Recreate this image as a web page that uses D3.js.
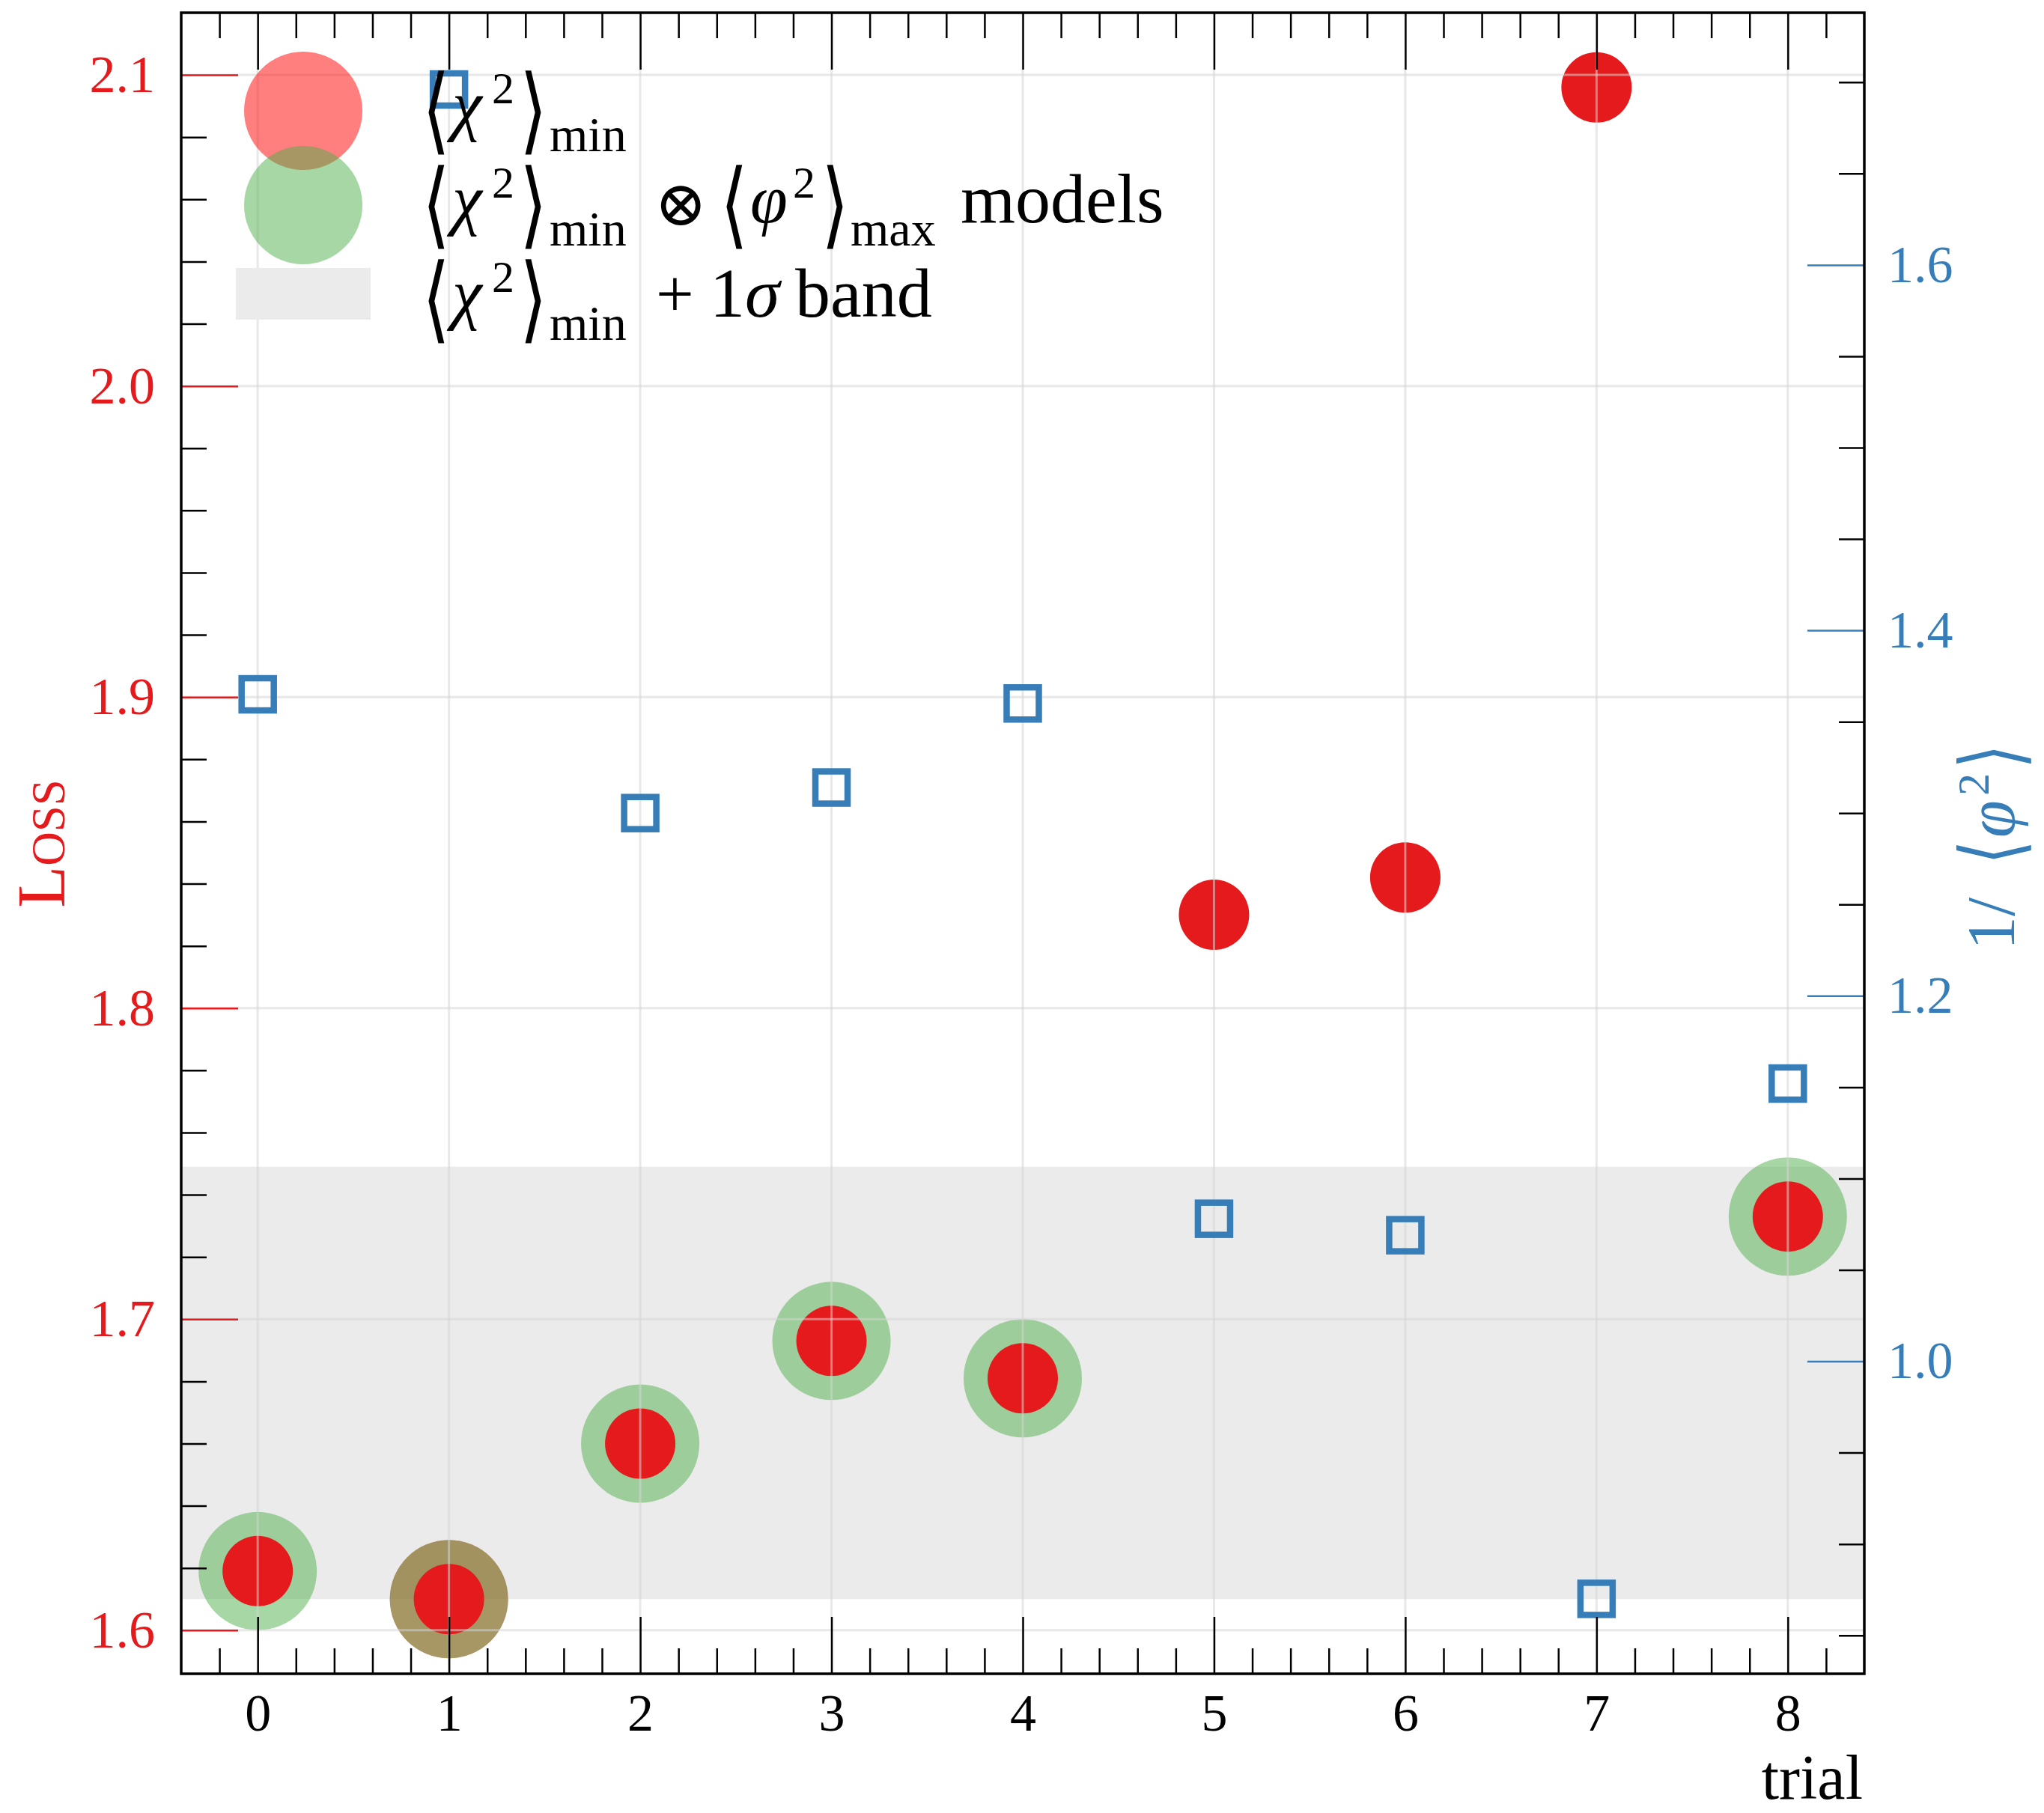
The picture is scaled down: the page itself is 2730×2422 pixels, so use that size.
<!DOCTYPE html>
<html>
<head>
<meta charset="utf-8">
<script src="https://cdn.jsdelivr.net/npm/d3@7/dist/d3.min.js"></script>
<style>
  html, body { margin: 0; padding: 0; background: #fff; }
  svg { display: block; }
  text { font-family: "Liberation Serif", "DejaVu Serif", serif; }
</style>
</head>
<body>
<svg id="chart" width="2730" height="2422"></svg>
<script>
// ---- data -------------------------------------------------------------
const trials      = [0, 1, 2, 3, 4, 5, 6, 7, 8];
const loss        = [1.619, 1.610, 1.660, 1.693, 1.681, 1.830, 1.842, 2.096, 1.733];
const invPhi2     = [1.365, 1.696, 1.300, 1.314, 1.360, 1.078, 1.069, 0.870, 1.152];
const modelTrials = [0, 1, 2, 3, 4, 8];   // ⟨χ²⟩min ⊗ ⟨φ²⟩max models
const bestTrial   = [1];                  // ⟨χ²⟩min
const band        = [1.610, 1.749];       // ⟨χ²⟩min + 1σ
const xTicks      = [0, 1, 2, 3, 4, 5, 6, 7, 8];
const lossTicks   = [1.6, 1.7, 1.8, 1.9, 2.0, 2.1];
const phiTicks    = [1.0, 1.2, 1.4, 1.6];

// ---- style --------------------------------------------------------------
const RED = "#e41a1c", BLUE = "#377eb8", GREEN = "#4daf4a";
const L = 242, R = 2490, T = 17, B = 2236;
const MAJOR = 76, MINOR = 34;
const TICK_FONT = 70, LABEL_FONT = 90;

const svg = d3.select("#chart");

const x = d3.scaleLinear().domain([-0.4, 8.4]).range([L, R]);
const yLoss = d3.scaleLinear().domain([1.586, 2.12]).range([B, T]);
const yPhi = d3.scaleLinear().domain([0.829, 1.738]).range([B, T]);

const close = (a, b) => Math.abs(a - b) < 1e-6;
const xMinor = d3.range(-0.2, 8.4, 0.2).filter(v => !xTicks.some(t => close(t, v)));
const lossMinor = d3.range(1.60, 2.119, 0.02).filter(v => !lossTicks.some(t => close(t, v)));
const phiMinor = d3.range(0.85, 1.738, 0.05).filter(v => !phiTicks.some(t => close(t, v)));

// ---- 1σ band ----------------------------------------------------------------
svg.append("rect")
  .attr("x", L).attr("width", R - L)
  .attr("y", yLoss(band[1])).attr("height", yLoss(band[0]) - yLoss(band[1]))
  .attr("fill", "#ebebeb");

// ---- loss markers -----------------------------------------------------------
const pts = trials.map((t, i) => ({ t, loss: loss[i], phi: invPhi2[i] }));

svg.append("g").selectAll("circle")
  .data(pts.filter(d => bestTrial.includes(d.t)))
  .join("circle")
  .attr("cx", d => x(d.t)).attr("cy", d => yLoss(d.loss)).attr("r", 79)
  .attr("fill", "red").attr("fill-opacity", 0.5);

svg.append("g").selectAll("circle")
  .data(pts.filter(d => modelTrials.includes(d.t)))
  .join("circle")
  .attr("cx", d => x(d.t)).attr("cy", d => yLoss(d.loss)).attr("r", 79)
  .attr("fill", GREEN).attr("fill-opacity", 0.5);

svg.append("g").selectAll("circle")
  .data(pts)
  .join("circle")
  .attr("cx", d => x(d.t)).attr("cy", d => yLoss(d.loss)).attr("r", 47)
  .attr("fill", RED);

// ---- grid -------------------------------------------------------------------
const grid = svg.append("g").attr("stroke", "#d6d6d6").attr("stroke-opacity", 0.55).attr("stroke-width", 3);
grid.selectAll("line.v").data(xTicks).join("line").attr("class", "v")
  .attr("x1", d => x(d)).attr("x2", d => x(d)).attr("y1", T).attr("y2", B);
grid.selectAll("line.h").data(lossTicks).join("line").attr("class", "h")
  .attr("x1", L).attr("x2", R).attr("y1", d => yLoss(d)).attr("y2", d => yLoss(d));

// ---- 1/⟨φ²⟩ markers ---------------------------------------------------------
const S = 43;
svg.append("g").selectAll("rect")
  .data(pts)
  .join("rect")
  .attr("x", d => x(d.t) - S / 2).attr("y", d => yPhi(d.phi) - S / 2)
  .attr("width", S).attr("height", S)
  .attr("fill", "none").attr("stroke", BLUE).attr("stroke-width", 8.5);

// ---- axes -------------------------------------------------------------------
function styleAxis(g, color, width) {
  g.select(".domain").remove();
  g.selectAll(".tick line").attr("stroke", color).attr("stroke-width", width);
  g.selectAll(".tick text").attr("fill", color)
    .attr("font-size", TICK_FONT)
    .attr("font-family", "Liberation Serif, DejaVu Serif, serif");
}

// bottom
svg.append("g").attr("transform", `translate(0,${B})`)
  .call(d3.axisBottom(x).tickValues(xMinor).tickSize(-MINOR).tickFormat(""))
  .call(g => styleAxis(g, "#000", 2.5));
svg.append("g").attr("transform", `translate(0,${B})`)
  .call(d3.axisBottom(x).tickValues(xTicks).tickSize(-MAJOR).tickPadding(26).tickFormat(d3.format("d")))
  .call(g => styleAxis(g, "#000", 2.5));

// top
svg.append("g").attr("transform", `translate(0,${T})`)
  .call(d3.axisTop(x).tickValues(xMinor).tickSize(-MINOR).tickFormat(""))
  .call(g => styleAxis(g, "#000", 2.5));
svg.append("g").attr("transform", `translate(0,${T})`)
  .call(d3.axisTop(x).tickValues(xTicks).tickSize(-MAJOR).tickFormat(""))
  .call(g => styleAxis(g, "#000", 2.5));

// left: loss
svg.append("g").attr("transform", `translate(${L},0)`)
  .call(d3.axisLeft(yLoss).tickValues(lossMinor).tickSize(-MINOR).tickFormat(""))
  .call(g => styleAxis(g, "#000", 2.5));
svg.append("g").attr("transform", `translate(${L},0)`)
  .call(d3.axisLeft(yLoss).tickValues(lossTicks).tickSize(-MAJOR).tickPadding(35).tickFormat(d3.format(".1f")))
  .call(g => styleAxis(g, RED, 2.5));

// right: 1/⟨φ²⟩
svg.append("g").attr("transform", `translate(${R},0)`)
  .call(d3.axisRight(yPhi).tickValues(phiMinor).tickSize(-MINOR).tickFormat(""))
  .call(g => styleAxis(g, "#000", 2.5));
svg.append("g").attr("transform", `translate(${R},0)`)
  .call(d3.axisRight(yPhi).tickValues(phiTicks).tickSize(-MAJOR).tickPadding(31).tickFormat(d3.format(".1f")))
  .call(g => styleAxis(g, BLUE, 2.5));

// frame
svg.append("rect").attr("x", L).attr("y", T).attr("width", R - L).attr("height", B - T)
  .attr("fill", "none").attr("stroke", "#000").attr("stroke-width", 3.5);

// ---- math text helpers ----------------------------------------------------------
// tall, narrow angle bracket
function bracket(g, ch, bx, by, size = 126) {
  g.append("text")
    .attr("transform", `translate(${bx},${by}) scale(0.75,1)`)
    .attr("font-family", "DejaVu Sans").attr("font-size", size).attr("font-weight", 300)
    .text(ch);
}
function piece(g, str, px, py, size, italic = false) {
  const t = g.append("text").attr("x", px).attr("y", py).attr("font-size", size).text(str);
  if (italic) t.attr("font-style", "italic");
  return t;
}

// ---- axis titles --------------------------------------------------------------
svg.append("text")
  .attr("x", R - 2).attr("y", 2403)
  .attr("text-anchor", "end").attr("font-size", 84).attr("fill", "#000")
  .text("trial");

const lossTitle = svg.append("text")
  .attr("transform", "translate(86,1127) rotate(-90)")
  .attr("text-anchor", "middle").attr("fill", RED);
lossTitle.append("tspan").attr("font-size", 92).text("L");
lossTitle.append("tspan").attr("font-size", 63).text("OSS");

const phiTitle = svg.append("g")
  .attr("transform", "translate(2690,1129) rotate(-90)")
  .attr("fill", BLUE);
piece(phiTitle, "1/", -140, 0, 90);
bracket(phiTitle, "⟨", -26, 8, 112);
piece(phiTitle, "φ", 10, 0, 90, true);
piece(phiTitle, "2", 66, -34, 60);
bracket(phiTitle, "⟩", 102, 8, 112);

// ---- legend -------------------------------------------------------------------
const leg = svg.append("g");
leg.append("circle").attr("cx", 405).attr("cy", 148).attr("r", 79)
  .attr("fill", "red").attr("fill-opacity", 0.5);
leg.append("circle").attr("cx", 405).attr("cy", 274).attr("r", 79)
  .attr("fill", GREEN).attr("fill-opacity", 0.5);
leg.append("rect").attr("x", 315).attr("y", 358).attr("width", 180).attr("height", 69)
  .attr("fill", "#ebebeb");

// ⟨χ²⟩_min at a given baseline
function chiMin(g, base) {
  bracket(g, "⟨", 564, base + 19);
  piece(g, "χ", 604, base, LABEL_FONT, true);
  piece(g, "2", 657, base - 33, 60);
  bracket(g, "⟩", 694, base + 19);
  piece(g, "min", 734, base + 31, 66);
}

const rows = [171, 297, 423];
const lg = leg.append("g").attr("fill", "#000");
chiMin(lg, rows[0]);

chiMin(lg, rows[1]);
lg.append("text").attr("x", 874).attr("y", rows[1] + 4)
  .attr("font-family", "DejaVu Serif").attr("font-size", 84).text("⊗");
bracket(lg, "⟨", 962, rows[1] + 19);
piece(lg, "φ", 1002, rows[1], LABEL_FONT, true);
piece(lg, "2", 1059, rows[1] - 33, 60);
bracket(lg, "⟩", 1097, rows[1] + 19);
piece(lg, "max", 1136, rows[1] + 31, 66);
piece(lg, "models", 1283, rows[1], 94);

chiMin(lg, rows[2]);
piece(lg, "+", 876, rows[2], LABEL_FONT);
const sig = piece(lg, "1", 948, rows[2], 94);
sig.append("tspan").attr("font-style", "italic").text("σ");
piece(lg, "band", 1062, rows[2], 94);
</script>
</body>
</html>
